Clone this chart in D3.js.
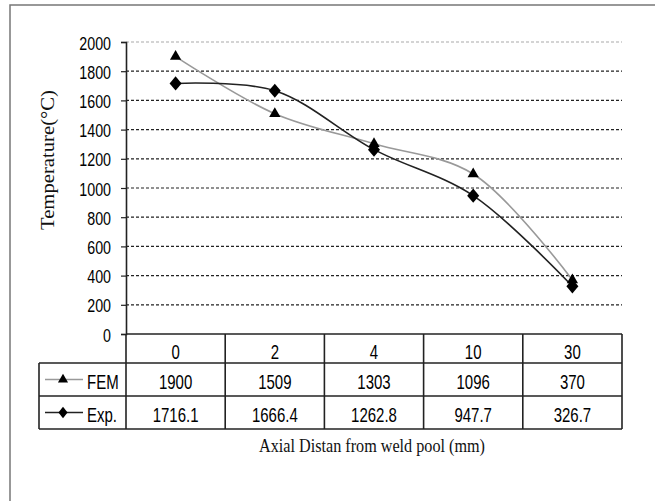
<!DOCTYPE html>
<html>
<head>
<meta charset="utf-8">
<script src="https://cdn.jsdelivr.net/npm/d3@7"></script>
<style>
  body { margin: 0; background: #fff; }
  .num { font-family: "Liberation Sans", Arial, sans-serif; font-size: 20px; fill: #000; }
  .serif { font-family: "Liberation Serif", "Times New Roman", serif; fill: #111; }
</style>
</head>
<body>
<script>
// Chart data
const distances = ["0", "2", "4", "10", "30"];
const femValues = [1900, 1509, 1303, 1096, 370];
const expValues = [1716.1, 1666.4, 1262.8, 947.7, 326.7];
const expLabels = ["1716.1", "1666.4", "1262.8", "947.7", "326.7"];
const yTicks = [0, 200, 400, 600, 800, 1000, 1200, 1400, 1600, 1800, 2000];

const W = 655, H = 501;
const plot = { left: 126, right: 622, top: 42, bottom: 334 };
const rowEdges = [334, 363, 396, 429]; // table row boundaries
const tableLeft = 39;
const narrow = 0.75; // squeeze the sans text like Arial Narrow

const svg = d3.select("body").append("svg")
  .attr("width", W)
  .attr("height", H);

// outer frame (runs off the right and bottom of the picture)
svg.append("rect")
  .attr("x", 10).attr("y", 5)
  .attr("width", 700).attr("height", 600)
  .attr("fill", "none")
  .attr("stroke", "#777")
  .attr("stroke-width", 1.5);

// Scales
const x = d3.scaleBand().domain(distances).range([plot.left, plot.right]);
const y = d3.scaleLinear().domain([0, 2000]).range([plot.bottom, plot.top]);
const cx = (d) => x(d) + x.bandwidth() / 2;

// put narrow text at (px, py)
function narrowText(sel, px, py) {
  return sel.attr("transform", (d, i) => {
    const a = typeof px === "function" ? px(d, i) : px;
    const b = typeof py === "function" ? py(d, i) : py;
    return `translate(${a},${b}) scale(${narrow},1)`;
  });
}

// gridlines
svg.append("g")
  .selectAll("line")
  .data(yTicks.filter((d) => d > 0))
  .join("line")
  .attr("x1", plot.left).attr("x2", plot.right)
  .attr("y1", (d) => y(d)).attr("y2", (d) => y(d))
  .attr("stroke", (d) => (d === 2000 ? "#aaa" : "#222"))
  .attr("stroke-width", 1.2)
  .attr("stroke-dasharray", "3,2");

// y axis
const yAxis = svg.append("g")
  .attr("transform", `translate(${plot.left},0)`)
  .call(d3.axisLeft(y).tickValues(yTicks).tickSize(5).tickPadding(0).tickFormat(d3.format("d")));
yAxis.select(".domain").attr("stroke", "#222").attr("stroke-width", 1.6);
yAxis.selectAll(".tick line").attr("stroke", "#222").attr("stroke-width", 1.2);
yAxis.selectAll(".tick text")
  .attr("class", "num")
  .attr("x", null)
  .attr("dy", null)
  .style("font-size", "19px")
  .attr("fill", "#111")
  .attr("transform", `translate(-15,7) scale(${narrow},1)`);

// y axis title
svg.append("text")
  .attr("class", "serif")
  .attr("transform", `translate(54,160) rotate(-90)`)
  .attr("text-anchor", "middle")
  .style("font-size", "18px")
  .attr("textLength", 140)
  .attr("lengthAdjust", "spacingAndGlyphs")
  .attr("fill", "#333")
  .text("Temperature(°C)");

// lines
const line = d3.line()
  .x((d) => cx(d.k))
  .y((d) => y(d.v))
  .curve(d3.curveCatmullRom.alpha(0.5));

const femPts = distances.map((k, i) => ({ k, v: femValues[i] }));
const expPts = distances.map((k, i) => ({ k, v: expValues[i] }));

svg.append("path")
  .attr("d", line(femPts))
  .attr("fill", "none")
  .attr("stroke", "#999")
  .attr("stroke-width", 1.6);

svg.append("path")
  .attr("d", line(expPts))
  .attr("fill", "none")
  .attr("stroke", "#222")
  .attr("stroke-width", 1.6);

const tri = d3.symbol().type(d3.symbolTriangle).size(55);
const dia = d3.symbol().type(d3.symbolDiamond).size(80);

svg.append("g")
  .selectAll("path")
  .data(femPts)
  .join("path")
  .attr("d", tri)
  .attr("transform", (d) => `translate(${cx(d.k)},${y(d.v)})`)
  .attr("fill", "#000");

svg.append("g")
  .selectAll("path")
  .data(expPts)
  .join("path")
  .attr("d", dia)
  .attr("transform", (d) => `translate(${cx(d.k)},${y(d.v)}) scale(1.25,0.85)`)
  .attr("fill", "#000");

// data table
const table = svg.append("g");

// horizontal rules
table.append("line")
  .attr("x1", plot.left).attr("x2", plot.right)
  .attr("y1", rowEdges[0]).attr("y2", rowEdges[0]);
[1, 2, 3].forEach((r) => {
  table.append("line")
    .attr("x1", tableLeft).attr("x2", plot.right)
    .attr("y1", rowEdges[r]).attr("y2", rowEdges[r]);
});
// vertical rules
table.append("line")
  .attr("x1", tableLeft).attr("x2", tableLeft)
  .attr("y1", rowEdges[1]).attr("y2", rowEdges[3]);
distances.concat(["end"]).forEach((d) => {
  const xx = d === "end" ? plot.right : x(d);
  table.append("line")
    .attr("x1", xx).attr("x2", xx)
    .attr("y1", rowEdges[0]).attr("y2", rowEdges[3]);
});
table.selectAll("line").attr("stroke", "#222").attr("stroke-width", 1.6);

const rowText = [distances, femValues, expLabels];
const baselines = [359, 389, 422];
rowText.forEach((vals, r) => {
  table.append("g")
    .selectAll("text")
    .data(vals)
    .join("text")
    .attr("class", "num")
    .attr("text-anchor", "middle")
    .call(narrowText, (d, i) => cx(distances[i]), baselines[r])
    .text((d) => d);
});

// legend keys inside the table
const keys = [
  { name: "FEM", color: "#999", sym: tri, scale: "scale(0.9)" },
  { name: "Exp.", color: "#222", sym: dia, scale: "scale(0.95,0.7)" },
];
keys.forEach((k, i) => {
  const yy = (rowEdges[i + 1] + rowEdges[i + 2]) / 2;
  table.append("line")
    .attr("x1", 45).attr("x2", 83)
    .attr("y1", yy).attr("y2", yy)
    .attr("stroke", k.color)
    .attr("stroke-width", 1.6);
  table.append("path")
    .attr("d", k.sym)
    .attr("transform", `translate(63,${yy}) ${k.scale}`)
    .attr("fill", "#000");
  table.append("text")
    .attr("class", "num")
    .call(narrowText, 87, baselines[i + 1])
    .text(k.name);
});

// x axis title
svg.append("text")
  .attr("class", "serif")
  .attr("x", 372)
  .attr("y", 452)
  .attr("text-anchor", "middle")
  .style("font-size", "19px")
  .attr("textLength", 226)
  .attr("lengthAdjust", "spacingAndGlyphs")
  .text("Axial Distan from weld pool (mm)");
</script>
</body>
</html>
